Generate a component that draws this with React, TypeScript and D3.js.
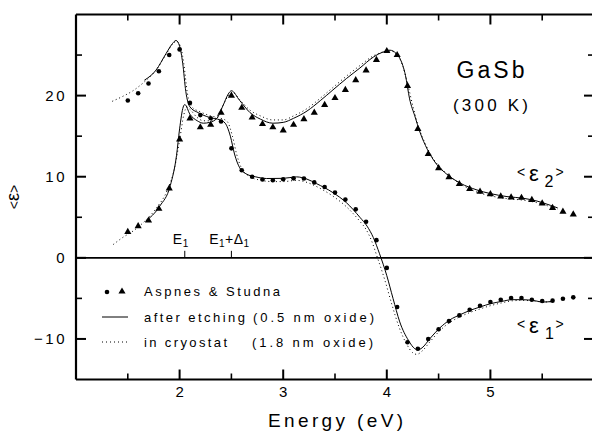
import React from "react";
import * as d3 from "d3";

const WIDTH = 592;
const HEIGHT = 435;

// Aspnes & Studna reference data, 0.1 eV steps
const refEnergy = [
  1.5, 1.6, 1.7, 1.8, 1.9, 2.0, 2.1, 2.2, 2.3, 2.4, 2.5, 2.6, 2.7, 2.8, 2.9,
  3.0, 3.1, 3.2, 3.3, 3.4, 3.5, 3.6, 3.7, 3.8, 3.9, 4.0, 4.1, 4.2, 4.3, 4.4,
  4.5, 4.6, 4.7, 4.8, 4.9, 5.0, 5.1, 5.2, 5.3, 5.4, 5.5, 5.6, 5.7, 5.8,
];
const refEps1 = [
  19.4, 20.3, 21.5, 23.0, 25.0, 25.7, 19.1, 17.6, 17.2, 16.8, 13.5, 10.8, 10.0,
  9.65, 9.57, 9.69, 9.8, 9.78, 9.3, 8.74, 8.04, 7.18, 5.98, 4.45, 2.18, -1.24,
  -6.06, -10.4, -11.2, -10.0, -8.8, -7.8, -7.1, -6.4, -5.9, -5.45, -5.16, -4.95,
  -4.95, -5.16, -5.32, -5.28, -5.04, -4.87,
];
const refEps2 = [
  3.2, 3.9, 4.6, 6.05, 8.55, 14.6, 17.2, 16.1, 16.4, 17.9, 20.0, 18.5, 17.3,
  16.5, 16.1, 15.7, 16.4, 17.1, 17.9, 18.85, 19.7, 20.7, 21.9, 23.1, 24.4, 25.5,
  25.0, 21.2, 15.9, 12.8, 11.05, 9.95, 9.1, 8.5, 8.15, 7.85, 7.58, 7.46, 7.4,
  7.15, 6.72, 6.15, 5.7, 5.36,
];

// After etching (0.5 nm oxide)
const etchedEps1Energy = [
  1.66, 1.77, 1.87, 1.93, 1.965, 2.0, 2.03, 2.06, 2.1, 2.18, 2.29, 2.39, 2.44,
  2.49, 2.53, 2.58, 2.65, 2.73, 2.84, 3.0, 3.13, 3.23, 3.32, 3.48, 3.61, 3.74,
  3.81, 3.87, 3.93, 4.0, 4.06, 4.125, 4.21, 4.27, 4.3, 4.34, 4.42, 4.51, 4.61,
  4.71, 4.8, 4.9, 5.0, 5.11, 5.21, 5.3, 5.41, 5.51, 5.6,
];
const etchedEps1 = [
  21.9, 23.1, 25.2, 26.4, 26.8, 26.1, 24.0, 20.5, 18.6, 17.9, 17.3, 17.0, 16.6,
  15.0, 12.8, 11.1, 10.3, 10.0, 9.78, 9.8, 9.98, 9.7, 9.16, 8.04, 6.8, 5.0,
  3.9, 2.5, 0.5, -2.2, -5.0, -7.9, -10.2, -11.2, -11.35, -11.1, -9.9, -8.66,
  -7.64, -7.0, -6.5, -6.06, -5.66, -5.37, -5.16, -5.16, -5.25, -5.45, -5.37,
];
const etchedEps2Energy = [
  1.67, 1.81, 1.91, 1.97, 2.0, 2.035, 2.05, 2.1, 2.17, 2.23, 2.29, 2.36, 2.42,
  2.47, 2.5, 2.58, 2.68, 2.78, 2.9, 3.0, 3.1, 3.23, 3.36, 3.48, 3.61, 3.74, 3.87,
  3.97, 4.03, 4.09, 4.13, 4.18, 4.22, 4.27, 4.32, 4.39, 4.48, 4.58, 4.71, 4.87,
  5.0, 5.16, 5.32, 5.45, 5.58, 5.65,
];
const etchedEps2 = [
  4.5, 6.4, 8.9, 12.6, 15.9, 18.6, 18.9, 17.7, 16.9, 16.6, 16.7, 17.2, 18.8,
  20.2, 20.6, 19.4, 17.9, 17.1, 16.6, 16.7, 17.2, 18.1, 19.4, 20.7, 22.1, 23.4,
  24.75, 25.4, 25.6, 25.2, 24.5, 22.5, 19.6, 17.5, 15.5, 13.4, 11.55, 10.3, 9.2,
  8.37, 7.92, 7.55, 7.34, 7.0, 6.47, 6.15,
];

// In cryostat (1.8 nm oxide)
const cryoEps1Energy = [
  1.35, 1.45, 1.55, 1.66, 1.77, 1.87, 1.93, 1.97, 2.01, 2.04, 2.075, 2.12, 2.2,
  2.3, 2.4, 2.46, 2.51, 2.55, 2.6, 2.68, 2.77, 2.9, 3.0, 3.13, 3.23, 3.32, 3.48,
  3.61, 3.74, 3.8, 3.85, 3.91, 3.98, 4.05, 4.12, 4.19, 4.25, 4.29, 4.34, 4.42,
  4.51, 4.61, 4.71, 4.8, 4.9, 5.0, 5.11, 5.21, 5.3, 5.41, 5.51, 5.6,
];
const cryoEps1 = [
  19.3, 19.9, 20.6, 21.7, 23.1, 25.1, 26.3, 26.7, 26.0, 24.0, 20.3, 18.6, 18.0,
  17.5, 17.2, 16.8, 15.0, 12.8, 11.0, 10.0, 9.6, 9.4, 9.4, 9.55, 9.3, 8.8, 7.6,
  6.3, 4.5, 3.5, 2.2, 0.0, -2.7, -5.8, -8.6, -10.6, -11.7, -11.9, -11.5, -10.3,
  -9.0, -7.95, -7.25, -6.75, -6.3, -5.9, -5.55, -5.3, -5.25, -5.3, -5.45, -5.4,
];
const cryoEps2Energy = [
  1.36, 1.45, 1.55, 1.67, 1.78, 1.88, 1.95, 2.0, 2.04, 2.07, 2.1, 2.17, 2.23,
  2.29, 2.36, 2.42, 2.47, 2.51, 2.58, 2.68, 2.78, 2.9, 3.0, 3.1, 3.23, 3.36,
  3.48, 3.61, 3.74, 3.87, 3.97, 4.04, 4.1, 4.15, 4.2, 4.25, 4.3, 4.36, 4.45,
  4.56, 4.7, 4.87, 5.0, 5.16, 5.32, 5.45, 5.58, 5.65,
];
const cryoEps2 = [
  1.65, 2.5, 3.3, 4.6, 6.2, 8.3, 11.0, 14.5, 17.6, 18.6, 18.3, 17.3, 16.9, 16.9,
  17.4, 18.8, 20.0, 20.4, 19.5, 18.2, 17.5, 17.0, 17.0, 17.5, 18.4, 19.7, 21.0,
  22.4, 23.7, 24.9, 25.4, 25.5, 25.0, 23.8, 21.5, 18.8, 16.4, 14.4, 12.2, 10.6,
  9.2, 8.1, 7.65, 7.3, 7.1, 6.8, 6.3, 6.0,
];

// Critical-point markers on the zero line
const criticalPoints = [
  { energy: 2.05, base: "E", sub: "1", tail: "" },
  { energy: 2.5, base: "E", sub: "1", tail: "+Δ" },
];

const xMajorTicks = [2, 3, 4, 5];
const xMinorTicks = [1.5, 2.5, 3.5, 4.5, 5.5];
const yMajorTicks = [-10, 0, 10, 20];
const yMinorTicks = [-5, 5, 15, 25];

const FONT = "'Liberation Sans', Arial, sans-serif";

const x = d3.scaleLinear().domain([1, 6]).range([76, 594]);
const y = d3.scaleLinear().domain([-15, 30]).range([379.5, 14.5]);

const line = d3
  .line<[number, number]>()
  .x((d) => x(d[0]))
  .y((d) => y(d[1]))
  .curve(d3.curveMonotoneX);

const pairs = (a: number[], b: number[]) => d3.zip(a, b) as [number, number][];

const fmt = (v: number) => (v < 0 ? "\u2212" + Math.abs(v) : String(v));

const triangle = d3.symbol().type(d3.symbolTriangle).size(22)();

export default function App() {
  const [x0, x1] = x.range();
  const [yb, yt] = y.range();
  const MAJ = 10;
  const MIN = 6;

  return (
    <svg
      width={WIDTH}
      height={HEIGHT}
      viewBox={`0 0 ${WIDTH} ${HEIGHT}`}
      style={{ position: "absolute", left: 0, top: 0, background: "#fff" }}
      fontFamily={FONT}
    >
      <rect width={WIDTH} height={HEIGHT} fill="#fff" />

      {/* curves */}
      <g fill="none" stroke="#000">
        <path d={line(pairs(cryoEps1Energy, cryoEps1)) ?? ""} strokeWidth={1} strokeDasharray="1 2.8" />
        <path d={line(pairs(cryoEps2Energy, cryoEps2)) ?? ""} strokeWidth={1} strokeDasharray="1 2.8" />
        <path d={line(pairs(etchedEps1Energy, etchedEps1)) ?? ""} strokeWidth={1} />
        <path d={line(pairs(etchedEps2Energy, etchedEps2)) ?? ""} strokeWidth={1} />
      </g>

      {/* reference points */}
      <g fill="#000">
        {refEnergy.map((e, i) => (
          <circle key={"d" + i} cx={x(e)} cy={y(refEps1[i])} r={2.3} />
        ))}
        {refEnergy.map((e, i) => (
          <path key={"t" + i} d={triangle ?? ""} transform={`translate(${x(e)},${y(refEps2[i])})`} />
        ))}
      </g>

      {/* zero line */}
      <line x1={x0} x2={x1} y1={y(0)} y2={y(0)} stroke="#000" strokeWidth={1.6} />

      {/* critical point ticks and labels */}
      {criticalPoints.map((c, i) => {
        const cx = x(c.energy);
        return (
          <g key={"cp" + i}>
            <line x1={cx} x2={cx} y1={y(0)} y2={y(0) - 7} stroke="#000" strokeWidth={1} />
            <text x={cx - (c.tail ? 2 : 4)} y={244} fontSize={14} textAnchor="middle" letterSpacing={0.5}>
              {c.base}
              <tspan fontSize={10} dy={3}>{c.sub}</tspan>
              {c.tail ? (
                <>
                  <tspan dy={-3}>{c.tail}</tspan>
                  <tspan fontSize={10} dy={3}>{c.sub}</tspan>
                </>
              ) : null}
            </text>
          </g>
        );
      })}

      {/* frame */}
      <g stroke="#000" fill="none">
        <line x1={x0} x2={x0} y1={yt} y2={yb} strokeWidth={2.2} />
        <line x1={x0} x2={x1} y1={yt} y2={yt} strokeWidth={2} />
        <line x1={x0} x2={x1} y1={yb} y2={yb} strokeWidth={2} />
        <line x1={x1} x2={x1} y1={yt} y2={yb} strokeWidth={2} />
        {xMajorTicks.map((t) => (
          <g key={"xM" + t} strokeWidth={2}>
            <line x1={x(t)} x2={x(t)} y1={yb} y2={yb - MAJ} />
            <line x1={x(t)} x2={x(t)} y1={yt} y2={yt + MAJ} />
          </g>
        ))}
        {xMinorTicks.map((t) => (
          <g key={"xm" + t} strokeWidth={1.6}>
            <line x1={x(t)} x2={x(t)} y1={yb} y2={yb - MIN} />
            <line x1={x(t)} x2={x(t)} y1={yt} y2={yt + MIN} />
          </g>
        ))}
        {yMajorTicks.map((t) => (
          <g key={"yM" + t} strokeWidth={2}>
            <line x1={x0} x2={x0 + MAJ} y1={y(t)} y2={y(t)} />
            <line x1={x1} x2={x1 - MAJ} y1={y(t)} y2={y(t)} />
          </g>
        ))}
        {yMinorTicks.map((t) => (
          <g key={"ym" + t} strokeWidth={1.6}>
            <line x1={x0} x2={x0 + MIN} y1={y(t)} y2={y(t)} />
            <line x1={x1} x2={x1 - MIN} y1={y(t)} y2={y(t)} />
          </g>
        ))}
      </g>

      {/* tick labels */}
      {xMajorTicks.map((t) => (
        <text key={"xl" + t} x={x(t)} y={397} fontSize={15} textAnchor="middle">
          {fmt(t)}
        </text>
      ))}
      {yMajorTicks.map((t) => (
        <text key={"yl" + t} x={67} y={y(t) + 5.5} fontSize={15} textAnchor="end" letterSpacing={2.5}>
          {fmt(t)}
        </text>
      ))}

      {/* axis titles */}
      <text x={268} y={427} fontSize={19} textLength={135} lengthAdjust="spacing">
        Energy (eV)
      </text>
      <g transform="translate(19,197) rotate(-90)">
        <text x={0} y={0} textAnchor="middle" fontSize={18}>
          <tspan fontSize={14}>&lt;</tspan>
          <tspan>ε</tspan>
          <tspan fontSize={14}>&gt;</tspan>
        </text>
      </g>

      {/* sample annotation */}
      <text x={490.5} y={77.5} fontSize={23} textAnchor="middle" textLength={68} lengthAdjust="spacing">
        GaSb
      </text>
      <text x={490.5} y={111} fontSize={17} textAnchor="middle" textLength={75} lengthAdjust="spacing">
        (300 K)
      </text>

      {/* series labels */}
      <g>
        <text x={517} y={176.5} fontSize={14}>&lt;</text>
        <text x={529} y={180.5} fontSize={22}>ε</text>
        <text x={544.5} y={187} fontSize={16}>2</text>
        <text x={555.5} y={176.5} fontSize={14}>&gt;</text>
      </g>
      <g>
        <text x={517} y={328.5} fontSize={14}>&lt;</text>
        <text x={529} y={332.5} fontSize={22}>ε</text>
        <text x={545} y={339} fontSize={16}>1</text>
        <text x={555.5} y={328.5} fontSize={14}>&gt;</text>
      </g>

      {/* legend */}
      <g>
        <circle cx={107} cy={292} r={2.3} fill="#000" />
        <path d={triangle ?? ""} transform="translate(122,291.5)" fill="#000" />
        <text x={144} y={296} fontSize={13} textLength={136} lengthAdjust="spacing">
          Aspnes &amp; Studna
        </text>
        <line x1={102} x2={128} y1={317} y2={317} stroke="#000" strokeWidth={1} />
        <text x={144} y={321.5} fontSize={13} textLength={101} lengthAdjust="spacing">
          after etching
        </text>
        <text x={253} y={321.5} fontSize={13} textLength={121} lengthAdjust="spacing">
          (0.5 nm oxide)
        </text>
        <line x1={102} x2={128} y1={342} y2={342} stroke="#000" strokeWidth={1} strokeDasharray="1 3" />
        <text x={144} y={346.5} fontSize={13} textLength={83} lengthAdjust="spacing">
          in cryostat
        </text>
        <text x={252} y={346.5} fontSize={13} textLength={121} lengthAdjust="spacing">
          (1.8 nm oxide)
        </text>
      </g>
    </svg>
  );
}
